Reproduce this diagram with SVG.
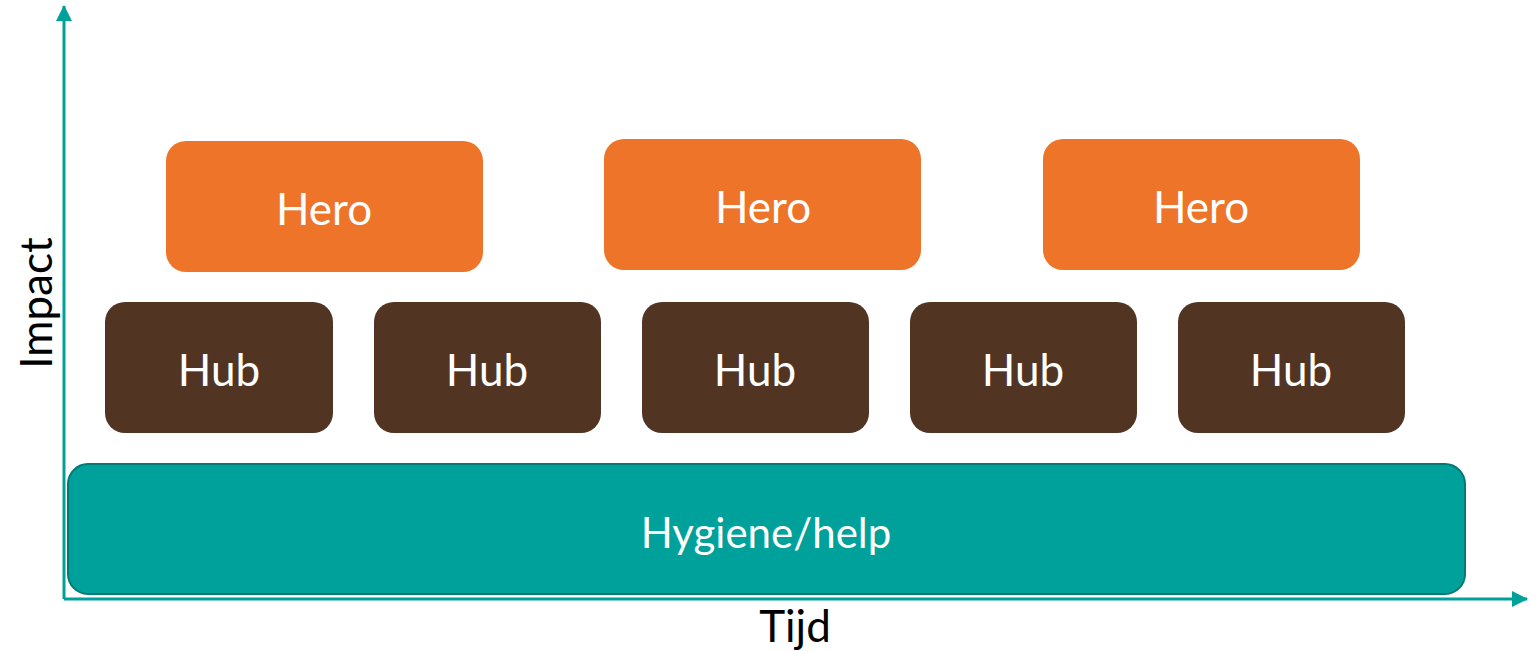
<svg xmlns="http://www.w3.org/2000/svg" width="1537" height="651" viewBox="0 0 1537 651">
  <style>
    .lbl { font-family: "Lato", "Open Sans", "Liberation Sans", sans-serif; fill: #ffffff; text-anchor: middle; font-size: 44px; }
    .axis-lbl { font-family: "Lato", "Open Sans", "Liberation Sans", sans-serif; fill: #000000; text-anchor: middle; font-size: 44px; }
    .hero { fill: #ED7429; }
    .hub { fill: #523423; }
    .base { fill: #00A19A; stroke: #007A72; stroke-width: 2; }
    .axis { stroke: #00A19A; stroke-width: 3; fill: none; }
  </style>
  <defs>
    <marker id="arrow" viewBox="0 0 16 16" refX="15" refY="8" markerWidth="16" markerHeight="16" markerUnits="userSpaceOnUse" orient="auto">
      <path d="M0,0 L16,8 L0,16 Z" fill="#00A19A"/>
    </marker>
  </defs>

  <rect width="1537" height="651" fill="#ffffff"/>

  <!-- axes -->
  <g id="connectors">
    <path class="axis" d="M64,599 L64,6" marker-end="url(#arrow)"/>
    <path class="axis" d="M64,599 L1527,599" marker-end="url(#arrow)"/>
  </g>

  <g id="base-layer">
    <rect class="base" x="68" y="464" width="1397" height="130" rx="20"/>
    <text class="lbl" x="766" y="548" style="font-size:42px">Hygiene/help</text>
  </g>

  <g id="hub-1"><rect class="hub" x="105" y="302" width="228" height="131" rx="20"/><text class="lbl" x="219" y="386">Hub</text></g>
  <g id="hub-2"><rect class="hub" x="374" y="302" width="227" height="131" rx="20"/><text class="lbl" x="487" y="386">Hub</text></g>
  <g id="hub-3"><rect class="hub" x="642" y="302" width="227" height="131" rx="20"/><text class="lbl" x="755" y="386">Hub</text></g>
  <g id="hub-4"><rect class="hub" x="910" y="302" width="227" height="131" rx="20"/><text class="lbl" x="1023" y="386">Hub</text></g>
  <g id="hub-5"><rect class="hub" x="1178" y="302" width="227" height="131" rx="20"/><text class="lbl" x="1291" y="386">Hub</text></g>

  <g id="hero-1"><rect class="hero" x="166" y="141" width="317" height="131" rx="20"/><text class="lbl" x="324" y="225">Hero</text></g>
  <g id="hero-2"><rect class="hero" x="604" y="139" width="317" height="131" rx="20"/><text class="lbl" x="763" y="223">Hero</text></g>
  <g id="hero-3"><rect class="hero" x="1043" y="139" width="317" height="131" rx="20"/><text class="lbl" x="1201" y="223">Hero</text></g>

  <g id="axis-labels">
    <text class="axis-lbl" x="795" y="642">Tijd</text>
    <text class="axis-lbl" transform="translate(52,303) rotate(-90)" x="0" y="0">Impact</text>
  </g>
</svg>
